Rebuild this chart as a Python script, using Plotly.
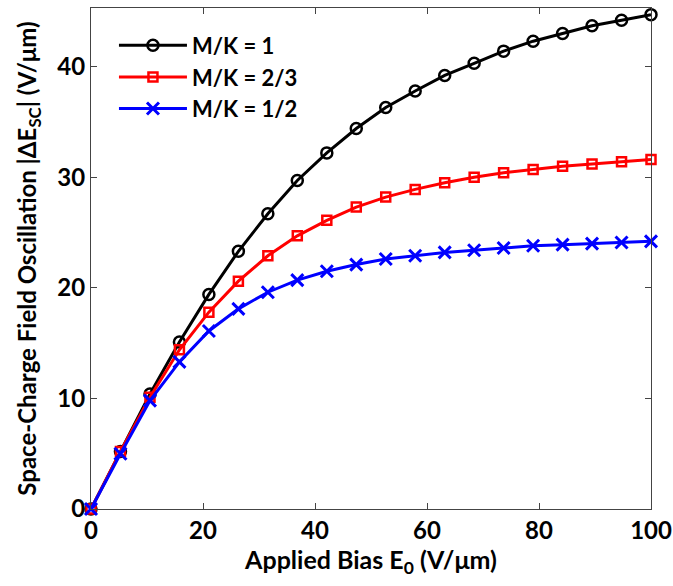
import plotly.graph_objects as go

bias = [0, 5.26, 10.53, 15.79, 21.05, 26.32, 31.58, 36.84, 42.11, 47.37,
        52.63, 57.89, 63.16, 68.42, 73.68, 78.95, 84.21, 89.47, 94.74, 100]
mk_1 = [0, 5.2, 10.4, 15.1, 19.4, 23.3, 26.7, 29.7, 32.2, 34.4,
        36.3, 37.8, 39.2, 40.3, 41.4, 42.3, 43.0, 43.7, 44.2, 44.7]
mk_23 = [0, 5.2, 10.1, 14.4, 17.8, 20.6, 22.9, 24.7, 26.1, 27.3,
         28.2, 28.9, 29.5, 30.0, 30.4, 30.7, 31.0, 31.2, 31.4, 31.6]
mk_12 = [0, 5.0, 9.8, 13.3, 16.1, 18.1, 19.6, 20.7, 21.5, 22.1,
         22.6, 22.9, 23.2, 23.4, 23.6, 23.8, 23.9, 24.0, 24.1, 24.2]
names = ["M/K = 1", "M/K = 2/3", "M/K = 1/2"]
x_ticks = [0, 20, 40, 60, 80, 100]
y_ticks = [0, 10, 20, 30, 40]

FONT = "Lato"
fig = go.Figure()
fig.add_trace(go.Scatter(x=bias, y=mk_1, name=names[0], mode="lines+markers",
                         line=dict(color="black", width=3),
                         marker=dict(symbol="circle-open", size=11, color="black", line=dict(width=2.5)),
                         cliponaxis=False))
fig.add_trace(go.Scatter(x=bias, y=mk_23, name=names[1], mode="lines+markers",
                         line=dict(color="#ff0000", width=3),
                         marker=dict(symbol="square-open", size=9, color="#ff0000", line=dict(width=2.5)),
                         cliponaxis=False))
fig.add_trace(go.Scatter(x=bias, y=mk_12, name=names[2], mode="lines+markers",
                         line=dict(color="#0000ff", width=3),
                         marker=dict(symbol="x-thin-open", size=12, color="#0000ff", line=dict(width=3, color="#0000ff")),
                         cliponaxis=False))

axis_common = dict(showline=True, linecolor="#444", linewidth=1, mirror="ticks",
                   ticks="inside", ticklen=6, tickcolor="#444", showgrid=False, zeroline=False,
                   automargin=False,
                   tickfont=dict(family=FONT, size=24, color="black", weight="bold"))
fig.update_layout(
    width=673, height=586,
    margin=dict(l=91, r=22, t=8, b=77),
    plot_bgcolor="white", paper_bgcolor="white",
    font=dict(family=FONT, color="black"),
    xaxis=dict(range=[0, 100], tickvals=x_ticks,
               title=dict(text="Applied Bias E<sub>0</sub> (V/μm)",
                          font=dict(family=FONT, size=25, weight="bold"), standoff=0),
               **axis_common),
    yaxis=dict(range=[0, 45.3], tickvals=y_ticks,
               title=dict(text="Space-Charge Field Oscillation |ΔE<sub>SC</sub>| (V/μm)",
                          font=dict(family=FONT, size=24, weight="bold"), standoff=13),
               **axis_common),
    legend=dict(x=0.041, y=0.967, xanchor="left", yanchor="top", bgcolor="rgba(0,0,0,0)",
                font=dict(family=FONT, size=22, color="black", weight="bold"), itemwidth=68,
                tracegroupgap=0),
)
# remove the default page margin so the figure fills the window exactly without scrollbars
fig.write_html("out.html", config={"displayModeBar": False},
               post_script="document.body.style.margin='0';document.body.style.overflow='hidden';"
                           "document.documentElement.style.overflow='hidden';")
